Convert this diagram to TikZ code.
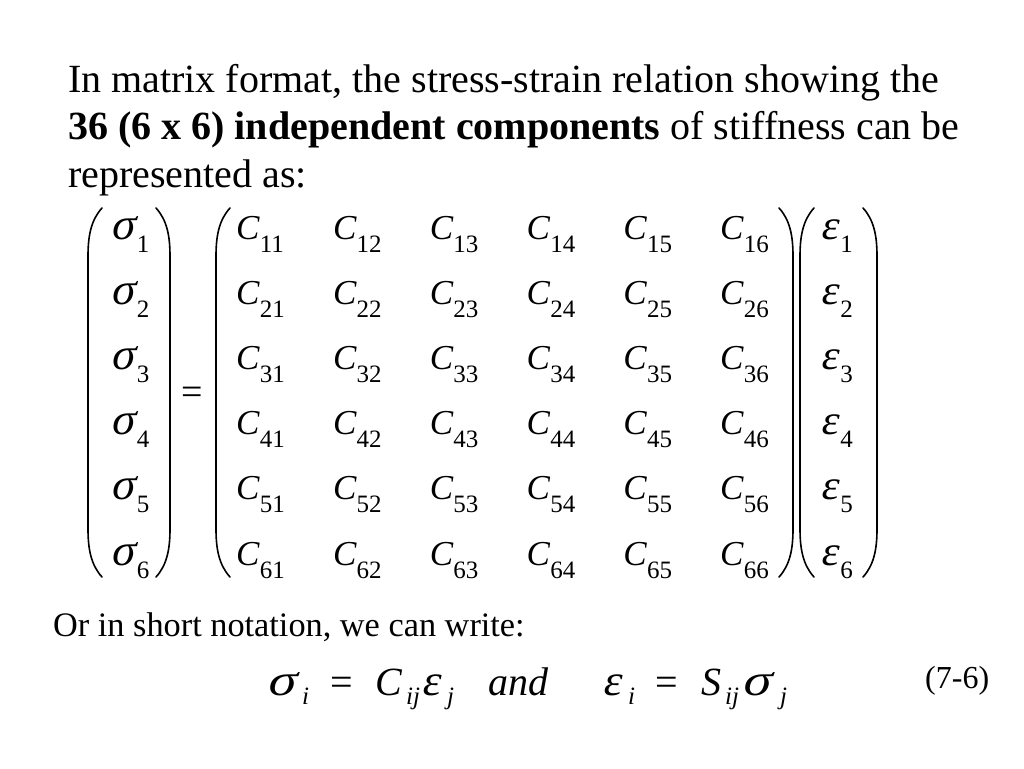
\documentclass[tikz,border=0pt]{standalone}
\usepackage{fontspec}
\setmainfont{Liberation Serif}
\newfontfamily\grk[FakeSlant=0.2]{Liberation Serif}
\newcommand{\msub}[1]{\raisebox{-13pt}{\fontsize{25}{25}\selectfont #1}}
\newcommand{\msig}{{\grk\fontsize{45}{45}\selectfont σ}\kern2.5pt}
\newcommand{\meps}{{\grk\fontsize{42}{42}\selectfont ε}\kern2.5pt}
\newcommand{\bsig}{\scalebox{1.2}[1]{\grk\fontsize{45}{45}\selectfont σ}}
\newcommand{\beps}{{\grk\fontsize{44}{44}\selectfont ε}}
\tikzset{
  txt/.style={anchor=base west, inner sep=0pt, font=\fontsize{40}{40}\selectfont},
  small/.style={anchor=base west, inner sep=0pt, font=\fontsize{34.3}{34.3}\selectfont},
  entry/.style={anchor=base west, inner sep=0pt, font=\fontsize{35}{35}\selectfont},
  eqp/.style={anchor=base west, inner sep=0pt, font=\fontsize{40}{40}\selectfont},
  eqs/.style={anchor=base west, inner sep=0pt, font=\fontsize{25}{25}\selectfont\itshape, yshift=-9pt},
  paren/.style={line width=1.6pt, line cap=round}
}
\newcommand{\lpar}[3]{\draw[paren] ({#1+14},#2) .. controls ({#1+3},{#2+12}) and (#1,{#2+28}) .. (#1,{#2+48}) -- (#1,{#3-48}) .. controls (#1,{#3-28}) and ({#1+3},{#3-12}) .. ({#1+14},#3);}
\newcommand{\rpar}[3]{\draw[paren] ({#1-14},#2) .. controls ({#1-3},{#2+12}) and (#1,{#2+28}) .. (#1,{#2+48}) -- (#1,{#3-48}) .. controls (#1,{#3-28}) and ({#1-3},{#3-12}) .. ({#1-14},#3);}
\begin{document}
\begin{tikzpicture}[x=1pt,y=-1pt]
\useasboundingbox[fill=white] (0,0) rectangle (1024,768);
\node[txt] (l1) at (68,92) {In matrix format, the stress-strain relation showing the};
\node[txt] (l2) at (68,139.5) {\textbf{36 (6 x 6) independent components} of stiffness can be};
\node[txt] (l3) at (68,187) {represented as:};
% vectors and matrix
\foreach \r in {1,...,6}{
  \node[entry] (s\r) at (110,{239+(\r-1)*65.2}) {\msig\msub{\r}};
  \node[entry] (e\r) at (820,{239+(\r-1)*65.2}) {\meps\msub{\r}};
  \foreach \c in {1,...,6}{
    \node[entry] (c\r\c) at ({236+(\c-1)*96.8},{239+(\r-1)*65.2}) {\textit{C}\msub{\r\c}};
  }
}
\node[entry, font=\fontsize{38}{38}\selectfont] (eq) at (181,404) {=};
\lpar{88}{208}{577}
\rpar{170}{208}{577}
\lpar{216}{208}{577}
\rpar{793}{208}{577}
\lpar{800}{208}{577}
\rpar{877}{208}{577}
\node[small] (l4) at (53,636) {Or in short notation, we can write:};
% short notation
\node[eqp] (b1) at (266,695) {\bsig};
\node[eqs] (b1s) at (302,695) {i};
\node[eqp] (b2) at (330,695) {=};
\node[eqp] (b3) at (375,695) {\textit{C}};
\node[eqs] (b3s) at (406,695) {ij};
\node[eqp] (b4) at (421,695) {\beps};
\node[eqs] (b4s) at (447,695) {j};
\node[eqp] (b5) at (488,695) {\textit{and}};
\node[eqp] (b6) at (602,695) {\beps};
\node[eqs] (b6s) at (628,695) {i};
\node[eqp] (b7) at (655,695) {=};
\node[eqp] (b8) at (701,695) {\textit{S}};
\node[eqs] (b8s) at (725,695) {ij};
\node[eqp] (b9) at (741,695) {\bsig};
\node[eqs] (b9s) at (780,695) {j};
\node[anchor=base west, inner sep=0pt, font=\fontsize{32}{32}\selectfont] (num) at (925,688) {(7-6)};
\end{tikzpicture}
\end{document}
